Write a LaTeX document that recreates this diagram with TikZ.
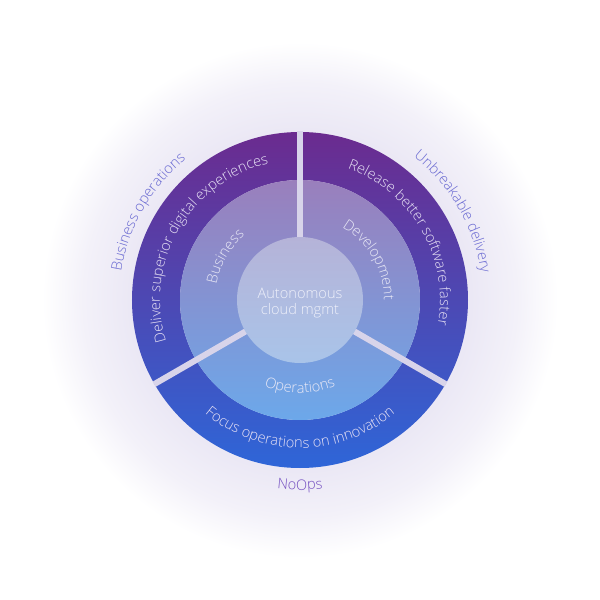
\documentclass[tikz,border=0pt]{standalone}
\usepackage{fontspec}
\IfFontExistsTF{Open Sans Light}{\setmainfont{Open Sans Light}}{\setmainfont{Open Sans}}
\usetikzlibrary{decorations.text}
\definecolor{glowin}{HTML}{EBE8F5}
\definecolor{glowmid}{HTML}{F3F1F9}
\definecolor{otop}{HTML}{6B2B8F}
\definecolor{omid}{HTML}{57369F}
\definecolor{obot}{HTML}{2E66D8}
\definecolor{mtop}{HTML}{9A7FBC}
\definecolor{mmid}{HTML}{878BC9}
\definecolor{mbot}{HTML}{6CA8EA}
\definecolor{itop}{HTML}{B5B3D8}
\definecolor{ibot}{HTML}{A9C4E9}
\definecolor{gapc}{HTML}{D8D4EA}
\definecolor{ringtxt}{HTML}{E6E0F4}
\definecolor{midtxt}{HTML}{E8E8F6}
\definecolor{innertxt}{HTML}{EEF0FA}
\definecolor{labtxt}{HTML}{6A6AD2}
\definecolor{nooptxt}{HTML}{7652C2}
\pgfdeclareradialshading{glow}{\pgfpoint{0bp}{0bp}}{color(0bp)=(glowin); color(16.5bp)=(glowin); color(21bp)=(glowmid); color(25bp)=(white); color(50bp)=(white)}
\tikzset{
  arctext/.style 2 args={decorate, decoration={text along path, text align=center,
    text={|\fontsize{14.6}{16}\selectfont\color{#1}|#2}}},
}
\begin{document}
\begin{tikzpicture}[x=1pt,y=1pt]
\useasboundingbox (-300,-300) rectangle (300,300);
\fill[white] (-300,-300) rectangle (300,300);
\shade[shading=glow] (0,0) circle (258);
% outer ring
\shade[top color=otop, middle color=omid, bottom color=obot, even odd rule] (0,0) circle (168) (0,0) circle (120);
% middle ring
\shade[top color=mtop, middle color=mmid, bottom color=mbot] (0,0) circle (120);
% gaps
\foreach \a in {90,210,330} \draw[gapc, line width=6] (\a:58) -- (\a:168.5);
% inner circle
\shade[top color=itop, bottom color=ibot] (0,0) circle (63);
\node[align=center, text=innertxt, font=\fontsize{14.6}{16.5}\selectfont] (core) at (0,-3) {Autonomous\\cloud mgmt};
% outer ring texts
\path[arctext={ringtxt}{Deliver superior digital experiences}] (220:140) arc[start angle=220, end angle=80, radius=140];
\path[arctext={ringtxt}{Release better software faster}] (100:140) arc[start angle=100, end angle=-40, radius=140];
\path[arctext={ringtxt}{Focus operations on innovation}] (200:148) arc[start angle=200, end angle=340, radius=148];
% middle ring texts
\path[arctext={midtxt}{Business}] (200:85) arc[start angle=200, end angle=100, radius=85];
\path[arctext={midtxt}{Development}] (90:84) arc[start angle=90, end angle=-30, radius=84];
\path[arctext={midtxt}{Operations}] (220:93) arc[start angle=220, end angle=320, radius=93];
% outer labels
\path[arctext={labtxt}{Business operations}] (200:181) arc[start angle=200, end angle=100, radius=181];
\path[arctext={labtxt}{Unbreakable delivery}] (80:183) arc[start angle=80, end angle=-20, radius=183];
\path[arctext={nooptxt}{NoOps}] (240:190) arc[start angle=240, end angle=300, radius=190];
\end{tikzpicture}
\end{document}
